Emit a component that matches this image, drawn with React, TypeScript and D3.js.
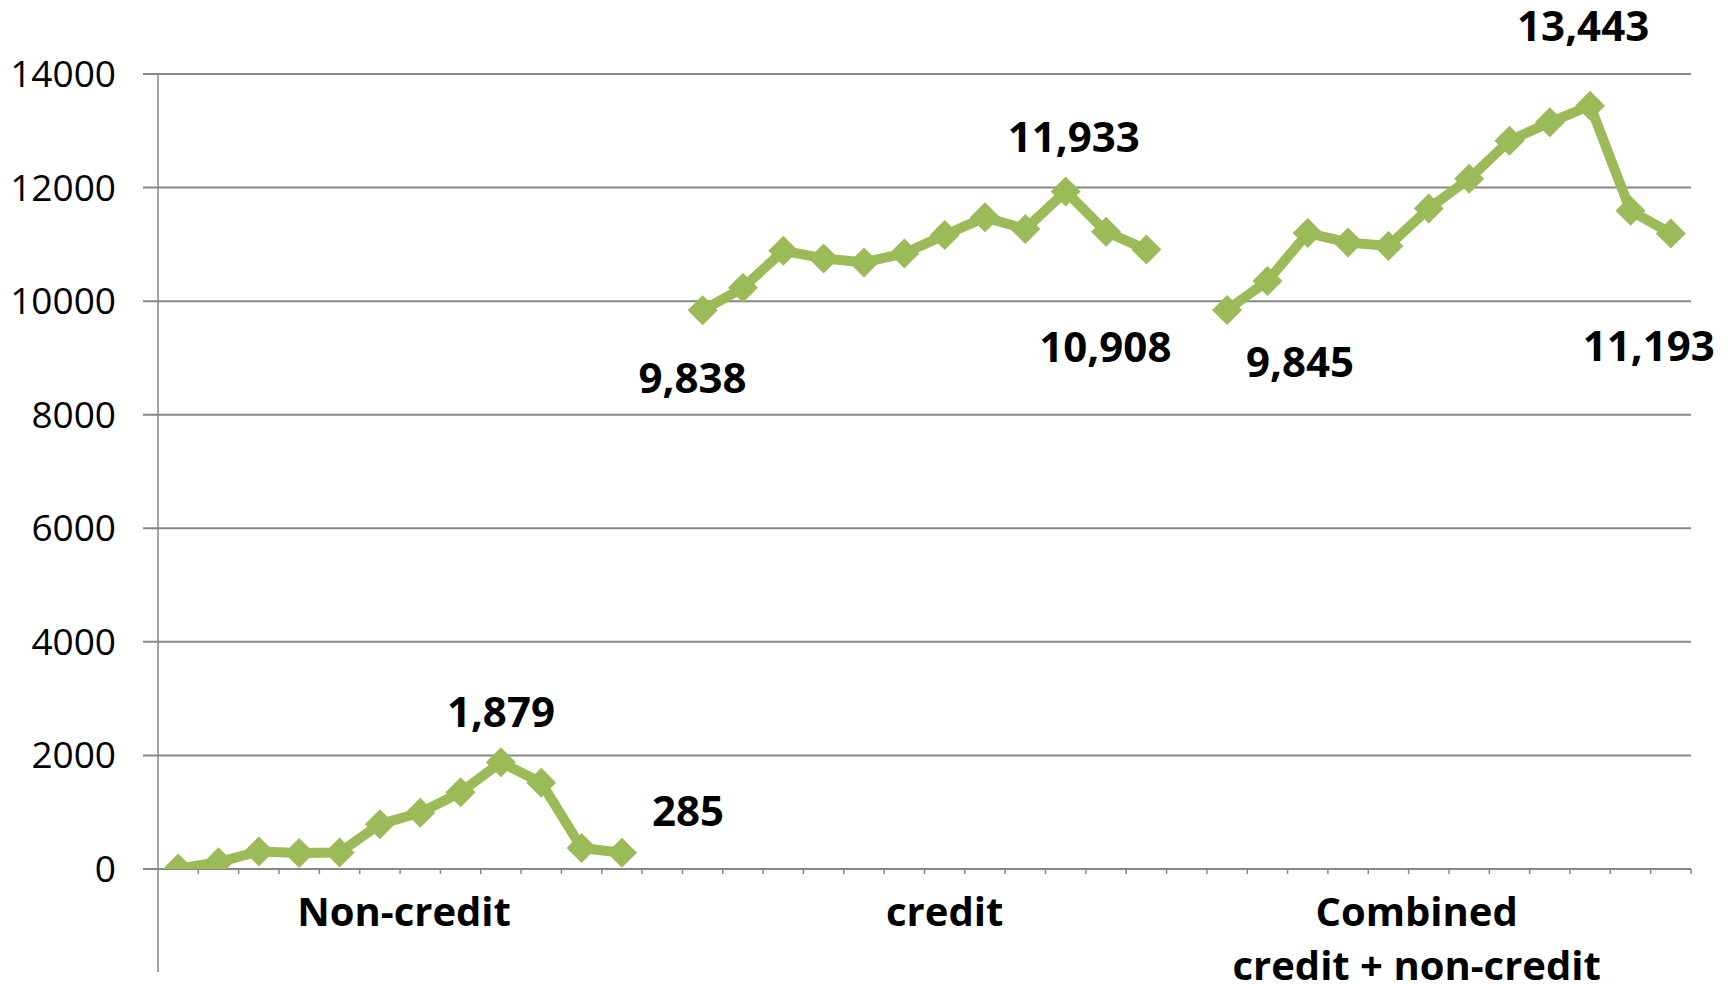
import React from 'react';
import * as d3 from 'd3';

// ---- data ----
const nonCredit = [7, 120, 310, 280, 290, 790, 990, 1350, 1879, 1520, 370, 285];
const credit = [9838, 10235, 10888, 10753, 10682, 10841, 11164, 11476, 11270, 11933, 11223, 10908];
const combined = [9845, 10355, 11198, 11033, 10972, 11631, 12154, 12826, 13149, 13443, 11593, 11193];
const seriesList = [nonCredit, credit, combined];
const seriesStartSlot = [0, 13, 26];
const slotCount = 38;
const yTicks = [0, 2000, 4000, 6000, 8000, 10000, 12000, 14000];
const groupLabelLines = [['Non-credit'], ['credit'], ['Combined', 'credit + non-credit']];
const groupLabelPos = [6.1, 19.5, 31.2];
const pointLabels = [
  { s: 0, i: 8, text: '1,879' },
  { s: 0, i: 11, text: '285' },
  { s: 1, i: 0, text: '9,838' },
  { s: 1, i: 9, text: '11,933' },
  { s: 1, i: 11, text: '10,908' },
  { s: 2, i: 0, text: '9,845' },
  { s: 2, i: 9, text: '13,443' },
  { s: 2, i: 11, text: '11,193' },
];
// label centre offsets from the point (px)
const labelOffsets = [
  [0, -50], [66, -42], [-10, 68], [8, -54], [-41, 97], [73, 52], [-7, -80], [-22, 113],
];

const W = 1732, H = 986;
const left = 158, right = 1691, top = 74, bottom = 869;
const GREEN = '#9BBB59';
const GRID = '#878787';
const FONT = '"Open Sans", "Noto Sans", sans-serif';

export default function App() {
  const x = d3.scaleBand<number>().domain(d3.range(slotCount)).range([left, right]).padding(0);
  const bw = x.bandwidth();
  const cx = (slot: number) => (x(slot) as number) + bw / 2;
  const y = d3.scaleLinear().domain([0, 14000]).range([bottom, top]);
  const line = d3.line<[number, number]>().x(d => d[0]).y(d => d[1]);
  const diamond = d3.symbol().type(d3.symbolSquare).size(450)() as string;
  const linePos = (v: number) => left + v * bw;

  return (
    <div style={{ position: 'absolute', left: 0, top: 0, width: W, height: H, background: '#fff' }}>
      <svg width={W} height={H} style={{ display: 'block' }}>
        <defs>
          <clipPath id="plotClip">
            <rect x={left} y={0} width={right - left} height={bottom} />
          </clipPath>
        </defs>
        {/* gridlines */}
        {yTicks.map(t => (
          <line key={'g' + t} x1={left - 15} x2={right} y1={y(t)} y2={y(t)} stroke={GRID} strokeWidth={2} />
        ))}
        {/* y axis line */}
        <line x1={left} x2={left} y1={top} y2={972} stroke={GRID} strokeWidth={1.5} />
        {/* category ticks */}
        {d3.range(1, slotCount + 1).map(k => (
          <line key={'t' + k} x1={linePos(k)} x2={linePos(k)} y1={bottom} y2={bottom + 5} stroke={GRID} strokeWidth={1.5} />
        ))}
        {/* y tick labels */}
        {yTicks.map(t => (
          <text key={'l' + t} x={116} y={y(t) + 13} textAnchor="end" fontFamily={FONT} fontSize={37} fill="#000">
            {t}
          </text>
        ))}
        {/* lines */}
        <g clipPath="url(#plotClip)">
          {seriesList.map((vals, s) => {
            const pts = vals.map((v, i) => [cx(seriesStartSlot[s] + i), y(v)] as [number, number]);
            return (
              <g key={'s' + s}>
                <path d={line(pts) as string} fill="none" stroke={GREEN} strokeWidth={10} strokeLinejoin="round" />
                {pts.map((p, i) => (
                  <path key={i} d={diamond} transform={`translate(${p[0]},${p[1]}) rotate(45)`} fill={GREEN} />
                ))}
              </g>
            );
          })}
        </g>
        {/* data labels */}
        {pointLabels.map((lb, k) => {
          const px = cx(seriesStartSlot[lb.s] + lb.i);
          const py = y(seriesList[lb.s][lb.i]);
          return (
            <text key={'d' + k} x={px + labelOffsets[k][0]} y={py + labelOffsets[k][1] + 15} textAnchor="middle"
              fontFamily={FONT} fontWeight={700} fontSize={42} fill="#000">
              {lb.text}
            </text>
          );
        })}
        {/* group labels */}
        {groupLabelLines.map((lines, g) => (
          <text key={'c' + g} textAnchor="middle" fontFamily={FONT} fontWeight={700} fontSize={40} fill="#000">
            {lines.map((ln, j) => (
              <tspan key={j} x={linePos(groupLabelPos[g])} y={926 + j * 54}>{ln}</tspan>
            ))}
          </text>
        ))}
      </svg>
    </div>
  );
}
